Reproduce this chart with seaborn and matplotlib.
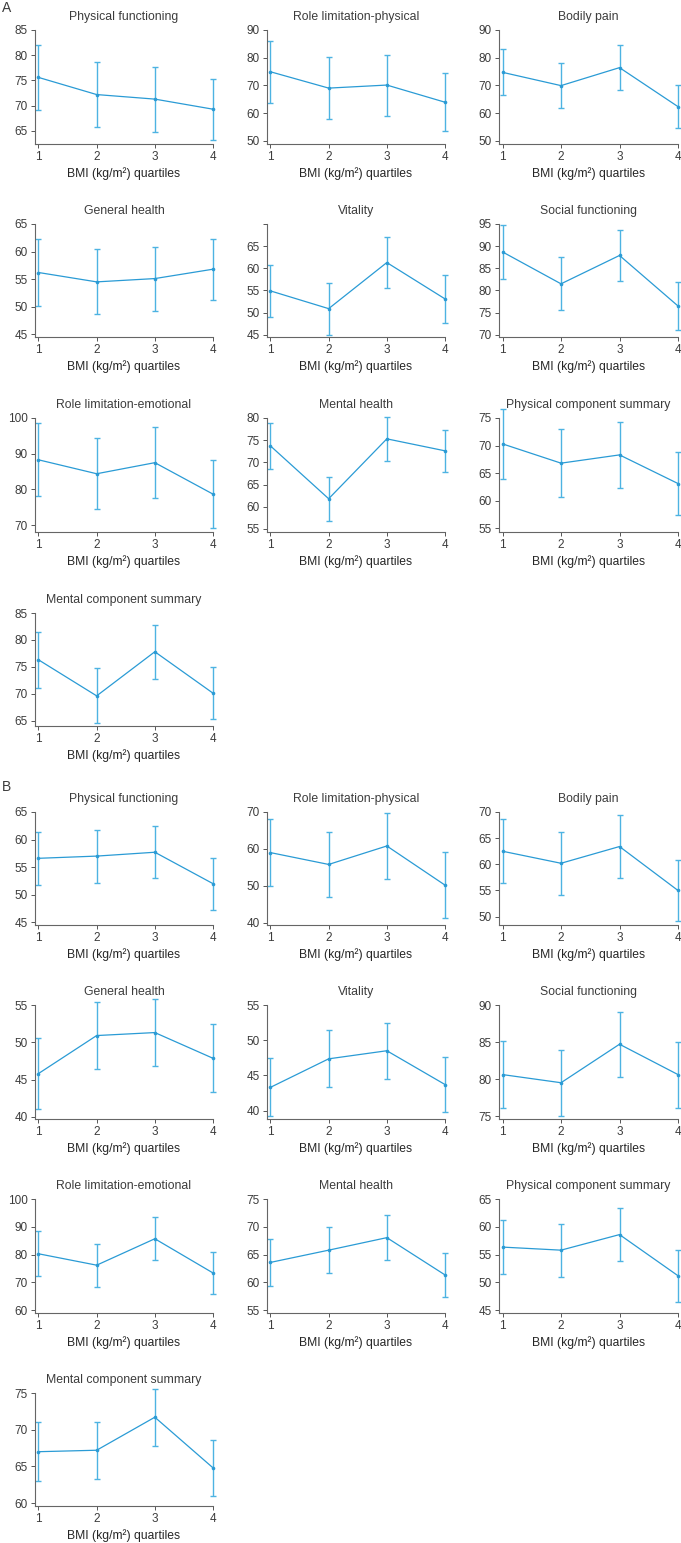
import numpy as np
import pandas as pd
import seaborn as sns
import matplotlib
matplotlib.use('Agg')  # no display
import matplotlib.pyplot as plt

quartiles = [1, 2, 3, 4]
domains = ['Physical functioning', 'Role limitation-physical', 'Bodily pain',
           'General health', 'Vitality', 'Social functioning',
           'Role limitation-emotional', 'Mental health', 'Physical component summary',
           'Mental component summary']

# Panel A: means and error half-widths per domain (quartile 1..4)
a_mean = [[75.6, 72.2, 71.3, 69.3],
          [74.9, 69.0, 70.1, 63.9],
          [74.7, 69.9, 76.4, 62.3],
          [56.2, 54.5, 55.1, 56.8],
          [54.9, 50.9, 61.3, 53.1],
          [88.7, 81.5, 87.9, 76.5],
          [88.3, 84.4, 87.5, 78.7],
          [73.7, 61.8, 75.3, 72.6],
          [70.3, 66.8, 68.3, 63.1],
          [76.3, 69.6, 77.8, 70.1]]
a_err = [[6.5, 6.5, 6.45, 6.05],
         [11.3, 11.1, 11.0, 10.5],
         [8.3, 8.25, 8.15, 7.7],
         [6.0, 5.9, 5.8, 5.5],
         [5.95, 5.85, 5.7, 5.5],
         [6.1, 5.95, 5.85, 5.45],
         [10.25, 10.0, 9.85, 9.45],
         [5.15, 5.0, 5.0, 4.8],
         [6.3, 6.2, 6.0, 5.8],
         [5.2, 5.1, 5.05, 4.85]]
a_yticks = [[65, 70, 75, 80, 85], [50, 60, 70, 80, 90], [50, 60, 70, 80, 90],
            [45, 50, 55, 60, 65], [45, 50, 55, 60, 65, 70], [70, 75, 80, 85, 90, 95],
            [70, 80, 90, 100], [55, 60, 65, 70, 75, 80], [55, 60, 65, 70, 75],
            [65, 70, 75, 80, 85]]
a_ymin = [62.4, 48.8, 48.8, 44.5, 44.5, 69.5, 68.1, 54.3, 54.3, 64.0]

# Panel B
b_mean = [[56.6, 57.0, 57.7, 52.0],
          [59.0, 55.8, 60.8, 50.2],
          [62.5, 60.2, 63.4, 55.0],
          [45.8, 50.9, 51.3, 47.85],
          [43.3, 47.35, 48.5, 43.7],
          [80.6, 79.5, 84.7, 80.6],
          [80.3, 76.2, 85.7, 73.4],
          [63.6, 65.8, 68.05, 61.35],
          [56.35, 55.8, 58.6, 51.2],
          [67.0, 67.2, 71.7, 64.8]]
b_err = [[4.85, 4.8, 4.7, 4.7],
         [9.0, 8.75, 8.85, 8.9],
         [6.1, 6.0, 5.95, 5.9],
         [4.75, 4.5, 4.55, 4.55],
         [4.1, 4.05, 4.0, 3.95],
         [4.5, 4.45, 4.4, 4.45],
         [8.05, 7.7, 7.65, 7.7],
         [4.25, 4.1, 4.05, 4.0],
         [4.85, 4.75, 4.75, 4.7],
         [4.0, 3.9, 3.9, 3.85]]
b_yticks = [[45, 50, 55, 60, 65], [40, 50, 60, 70], [50, 55, 60, 65, 70],
            [40, 45, 50, 55], [40, 45, 50, 55], [75, 80, 85, 90],
            [60, 70, 80, 90, 100], [55, 60, 65, 70, 75], [45, 50, 55, 60, 65],
            [60, 65, 70, 75]]
b_ymin = [44.5, 39.4, 48.4, 39.7, 38.8, 74.6, 59.0, 54.5, 44.5, 59.6]
unlabeled_ticks = {('A', 4): [70]}

sns.set_style('ticks')
plt.rcParams['font.family'] = ['Liberation Sans', 'DejaVu Sans']
plt.rcParams['text.color'] = '#3c3c3c'
plt.rcParams['xtick.color'] = '#555555'
plt.rcParams['ytick.color'] = '#555555'
plt.rcParams['xtick.labelcolor'] = '#3c3c3c'
plt.rcParams['ytick.labelcolor'] = '#3c3c3c'

W, H = 681, 1543
fig = plt.figure(figsize=(W / 100, H / 100), dpi=100)

col_px = [(35, 213), (267, 445), (499, 678)]
row_px = {'A': [(30, 144), (224, 337), (418, 532), (613, 726)],
          'B': [(812, 925), (1005, 1119), (1199, 1313), (1393, 1506)]}
line_color = '#2a9bd5'
bar_color = '#4db3e2'

for panel, means, errs, yticks, ymins in [('A', a_mean, a_err, a_yticks, a_ymin),
                                          ('B', b_mean, b_err, b_yticks, b_ymin)]:
    for i, name in enumerate(domains):
        left, right = col_px[i % 3]
        top, bottom = row_px[panel][i // 3]
        ax = fig.add_axes([left / W, 1 - bottom / H, (right - left) / W, (bottom - top) / H])
        df = pd.DataFrame({'q': quartiles, 'mean': means[i], 'err': errs[i]})
        ax.errorbar(df['q'], df['mean'], yerr=df['err'], fmt='none', ecolor=bar_color,
                    elinewidth=1.0, capsize=2.2, capthick=1.0, clip_on=False, zorder=2)
        sns.lineplot(data=df, x='q', y='mean', ax=ax, color=line_color, lw=0.9,
                     marker='o', markersize=2.6, markeredgewidth=0, zorder=3)
        for ln in ax.lines:
            ln.set_clip_on(False)
        ax.set_xlim(0.94, 4.0)
        ax.set_ylim(ymins[i], yticks[i][-1])
        ax.set_xticks(quartiles)
        ax.set_yticks(yticks[i])
        hidden = unlabeled_ticks.get((panel, i), [])
        ax.set_yticklabels(['' if t in hidden else str(t) for t in yticks[i]])
        ax.tick_params(labelsize=8.5, length=3, width=0.7, pad=2)
        ax.set_xlabel('BMI (kg/m\u00b2) quartiles', fontsize=8.7, labelpad=3)
        ax.set_ylabel('')
        ax.set_title(name, fontsize=8.8, pad=7)
        for s in ['left', 'bottom']:
            ax.spines[s].set_color('#666666')
            ax.spines[s].set_linewidth(0.8)
        sns.despine(ax=ax)

fig.text(2 / W, 1 - 8 / H, 'A', fontsize=10, va='center', ha='left')
fig.text(2 / W, 1 - 787 / H, 'B', fontsize=10, va='center', ha='left')

fig.savefig('out.png', dpi=100)
